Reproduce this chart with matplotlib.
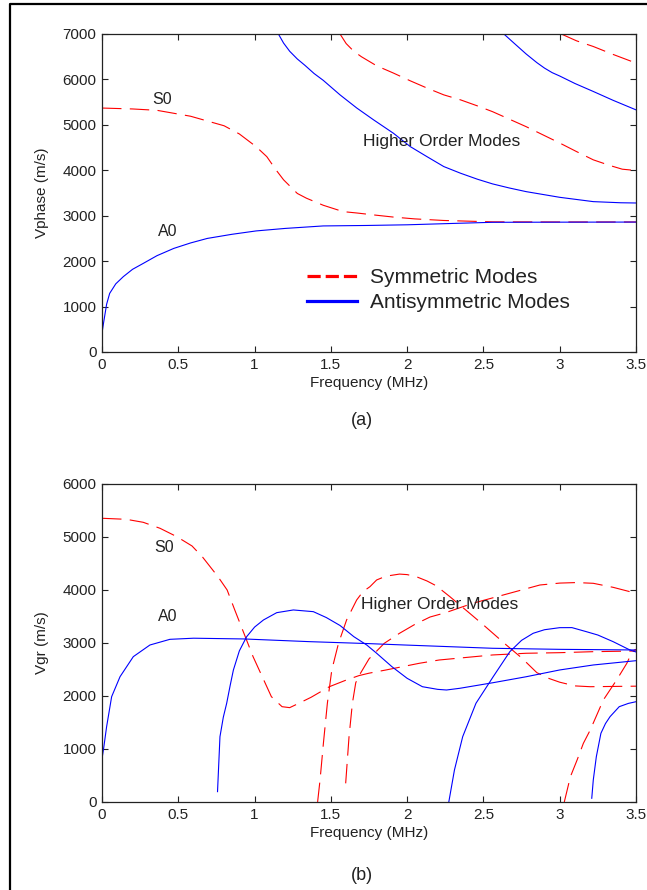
import matplotlib
matplotlib.use("Agg")
import matplotlib.pyplot as plt
from matplotlib.lines import Line2D

plt.rcParams['font.family'] = ['Liberation Sans', 'DejaVu Sans']
plt.rcParams['lines.scale_dashes'] = False

# ---------------- (a) phase velocity ----------------
s0_ph_f = [0, 0.2, 0.36, 0.58, 0.8, 0.9, 1.01, 1.08, 1.14, 1.19, 1.28, 1.34, 1.45, 1.58, 1.67, 1.8, 1.91, 2.05, 2.24, 2.56, 3.0, 3.5]
s0_ph_v = [5370, 5350, 5320, 5190, 4980, 4800, 4520, 4300, 4010, 3790, 3490, 3385, 3230, 3090, 3060, 3010, 2970, 2930, 2895, 2865, 2862, 2862]

a0_ph_f = [0, 0.01, 0.03, 0.05, 0.09, 0.14, 0.2, 0.27, 0.36, 0.47, 0.58, 0.69, 0.85, 1.01, 1.2, 1.45, 1.73, 2.0, 2.3, 2.56, 3.0, 3.5]
a0_ph_v = [420, 640, 1050, 1290, 1500, 1660, 1820, 1950, 2120, 2280, 2400, 2500, 2590, 2665, 2720, 2775, 2785, 2800, 2830, 2855, 2858, 2860]

a1_ph_f = [1.156, 1.19, 1.23, 1.28, 1.33, 1.39, 1.45, 1.56, 1.67, 1.78, 1.91, 2.02, 2.13, 2.24, 2.35, 2.46, 2.56, 2.67, 2.78, 3.0, 3.22, 3.4, 3.5]
a1_ph_v = [7000, 6800, 6620, 6450, 6310, 6130, 5980, 5660, 5370, 5110, 4815, 4522, 4300, 4082, 3935, 3804, 3700, 3610, 3530, 3405, 3310, 3285, 3280]

s1_ph_f = [1.56, 1.6, 1.65, 1.7, 1.8, 1.91, 2.02, 2.13, 2.24, 2.35, 2.46, 2.56, 2.67, 2.78, 2.89, 3.0, 3.11, 3.22, 3.33, 3.41, 3.5]
s1_ph_v = [7000, 6790, 6620, 6500, 6300, 6140, 5970, 5810, 5660, 5550, 5418, 5290, 5125, 4960, 4780, 4600, 4412, 4230, 4104, 4024, 3995]

a2_ph_f = [2.634, 2.7, 2.78, 2.85, 2.9, 2.95, 3.0, 3.1, 3.22, 3.35, 3.5]
a2_ph_v = [7000, 6800, 6560, 6370, 6250, 6150, 6075, 5910, 5735, 5540, 5330]

s2_ph_f = [3.01, 3.11, 3.22, 3.35, 3.5]
s2_ph_v = [7000, 6850, 6725, 6550, 6360]

# ---------------- (b) group velocity ----------------
s0_gr_f = [0, 0.16, 0.27, 0.38, 0.49, 0.59, 0.66, 0.76, 0.82, 0.87, 0.93, 0.99, 1.06, 1.11, 1.18, 1.23, 1.29, 1.37, 1.49, 1.6, 1.685,
           1.75, 1.86, 2.08, 2.21, 2.56, 2.78, 3.0, 3.22, 3.5]
s0_gr_v = [5353, 5333, 5277, 5164, 5006, 4830, 4617, 4251, 4000, 3623, 3183, 2742, 2302, 1987, 1798, 1780, 1862, 1975, 2175, 2300, 2385,
           2430, 2490, 2617, 2679, 2774, 2806, 2817, 2836, 2849]

s1_gr_f = [1.413, 1.429, 1.451, 1.477, 1.506, 1.55, 1.603, 1.669, 1.71, 1.756, 1.8, 1.86, 1.95, 2.0, 2.06, 2.13, 2.19, 2.28, 2.41,
           2.5, 2.65, 2.75, 2.85, 2.93, 3.0, 3.1, 3.2, 3.5]
s1_gr_v = [0, 415, 1107, 1862, 2490, 2994, 3434, 3811, 3968, 4062, 4189, 4260, 4300, 4290, 4251, 4170, 4080, 3874, 3560,
           3340, 2962, 2720, 2440, 2330, 2260, 2190, 2175, 2185]

s2_gr_f = [1.597, 1.619, 1.641, 1.663, 1.685, 1.75, 1.85, 1.95, 2.05, 2.15, 2.25, 2.43, 2.67, 2.87, 3.0, 3.11, 3.22, 3.35, 3.46, 3.5]
s2_gr_v = [352, 1232, 1862, 2250, 2385, 2700, 2994, 3183, 3350, 3490, 3570, 3749, 3937, 4094, 4130, 4140, 4126, 4050, 3968, 3950]

s3_gr_f = [3.03, 3.07, 3.115, 3.155, 3.2, 3.286, 3.373, 3.44, 3.47, 3.49, 3.5]
s3_gr_v = [0, 477, 800, 1107, 1358, 1925, 2302, 2617, 2806, 2868, 2880]

a0_gr_f = [0, 0.01, 0.03, 0.063, 0.118, 0.205, 0.314, 0.445, 0.6, 0.93, 1.36, 1.73, 2.0, 2.56, 3.0, 3.5]
a0_gr_v = [820, 1000, 1420, 1987, 2364, 2742, 2962, 3069, 3090, 3076, 3025, 2990, 2960, 2900, 2880, 2868]

a1_gr_f = [0.757, 0.773, 0.795, 0.817, 0.84, 0.861, 0.9, 0.948, 1.0, 1.058, 1.145, 1.254, 1.385, 1.47, 1.56, 1.65, 1.735, 1.8,
           1.9, 2.0, 2.1, 2.2, 2.258, 2.345, 2.564, 2.782, 3.0, 3.22, 3.5]
a1_gr_v = [195, 1232, 1600, 1862, 2200, 2490, 2850, 3119, 3300, 3434, 3572, 3623, 3591, 3480, 3330, 3120, 2962, 2806,
           2553, 2333, 2175, 2125, 2113, 2145, 2251, 2364, 2491, 2585, 2666]

a2_gr_f = [2.273, 2.31, 2.364, 2.451, 2.564, 2.673, 2.75, 2.826, 2.9, 3.0, 3.08, 3.175, 3.25, 3.35, 3.46, 3.5]
a2_gr_v = [0, 604, 1232, 1862, 2364, 2836, 3050, 3183, 3250, 3289, 3290, 3213, 3150, 3025, 2868, 2830]

a3_gr_f = [3.21, 3.22, 3.24, 3.27, 3.3, 3.33, 3.39, 3.45, 3.5]
a3_gr_v = [70, 415, 855, 1296, 1480, 1610, 1798, 1860, 1892]

x_ticks = [0, 0.5, 1, 1.5, 2, 2.5, 3, 3.5]
x_ticklabels = ['0', '0.5', '1', '1.5', '2', '2.5', '3', '3.5']
y_ticks_a = [0, 1000, 2000, 3000, 4000, 5000, 6000, 7000]
y_ticks_b = [0, 1000, 2000, 3000, 4000, 5000, 6000]

sym_phase = [(s0_ph_f, s0_ph_v), (s1_ph_f, s1_ph_v), (s2_ph_f, s2_ph_v)]
anti_phase = [(a0_ph_f, a0_ph_v), (a1_ph_f, a1_ph_v), (a2_ph_f, a2_ph_v)]
sym_group = [(s0_gr_f, s0_gr_v), (s1_gr_f, s1_gr_v), (s2_gr_f, s2_gr_v), (s3_gr_f, s3_gr_v)]
anti_group = [(a0_gr_f, a0_gr_v), (a1_gr_f, a1_gr_v), (a2_gr_f, a2_gr_v), (a3_gr_f, a3_gr_v)]

RED = '#ff0000'
BLUE = '#0000ff'
DASH = (0, (14, 6))
LW = 0.8

fig = plt.figure(figsize=(6.47, 8.9), dpi=100)
ax1 = fig.add_axes([0.1577, 0.6045, 0.8253, 0.3573])
ax2 = fig.add_axes([0.1577, 0.0989, 0.8253, 0.3573])

for f, v in sym_phase:
    ax1.plot(f, v, color=RED, lw=LW, linestyle=DASH)
for f, v in anti_phase:
    ax1.plot(f, v, color=BLUE, lw=LW)
for f, v in sym_group:
    ax2.plot(f, v, color=RED, lw=LW, linestyle=DASH)
for f, v in anti_group:
    ax2.plot(f, v, color=BLUE, lw=LW)

for ax, yt, ymax, ylab in [(ax1, y_ticks_a, 7000, 'Vphase (m/s)'), (ax2, y_ticks_b, 6000, 'Vgr (m/s)')]:
    ax.set_xlim(0, 3.5)
    ax.set_ylim(0, ymax)
    ax.set_xticks(x_ticks)
    ax.set_xticklabels(x_ticklabels)
    ax.set_yticks(yt)
    ax.set_yticklabels([str(t) for t in yt])
    ax.tick_params(direction='in', length=4, width=0.8, top=True, right=True,
                   labelsize=11, pad=4, colors='#222222')
    for sp in ax.spines.values():
        sp.set_linewidth(0.9)
        sp.set_color('#222222')
    ax.set_xlabel('Frequency (MHz)', fontsize=11, labelpad=3, color='#222222')
    ax.set_ylabel(ylab, fontsize=11, color='#222222')
    ax.yaxis.set_label_coords(-0.099, 0.5)

# labels in (a)
ax1.text(0.393, 5550, 'S0', fontsize=11.5, ha='center', va='center', color='#222222')
ax1.text(0.433, 2650, 'A0', fontsize=11.5, ha='center', va='center', color='#222222')
ax1.text(1.713, 4632, 'Higher Order Modes', fontsize=12.5, ha='left', va='center', color='#222222')
# labels in (b)
ax2.text(0.406, 4805, 'S0', fontsize=11.5, ha='center', va='center', color='#222222')
ax2.text(0.433, 3497, 'A0', fontsize=11.5, ha='center', va='center', color='#222222')
ax2.text(1.70, 3717, 'Higher Order Modes', fontsize=12.5, ha='left', va='center', color='#222222')

handles = [Line2D([], [], color=RED, lw=2.3, linestyle=(0, (9.5, 3.6))),
           Line2D([], [], color=BLUE, lw=2.3)]
ax1.legend(handles, ['Symmetric Modes', 'Antisymmetric Modes'], loc='center left',
           bbox_to_anchor=(0.384, 0.195), frameon=False, fontsize=15,
           handlelength=2.4, handletextpad=0.6, borderpad=0, borderaxespad=0,
           labelspacing=0.3, labelcolor='#222222')

fig.text(361.6 / 647, 1 - 420 / 890, '(a)', fontsize=13, ha='center', va='center', color='#222222')
fig.text(361.6 / 647, 1 - 875 / 890, '(b)', fontsize=13, ha='center', va='center', color='#222222')

# outer frame (top and left edges)
fig.add_artist(Line2D([9.5 / 647, 9.5 / 647, 1.0], [0.0, 1 - 4.3 / 890, 1 - 4.3 / 890],
                      transform=fig.transFigure, color='black', lw=1.6))

fig.savefig('out.png', dpi=100)
